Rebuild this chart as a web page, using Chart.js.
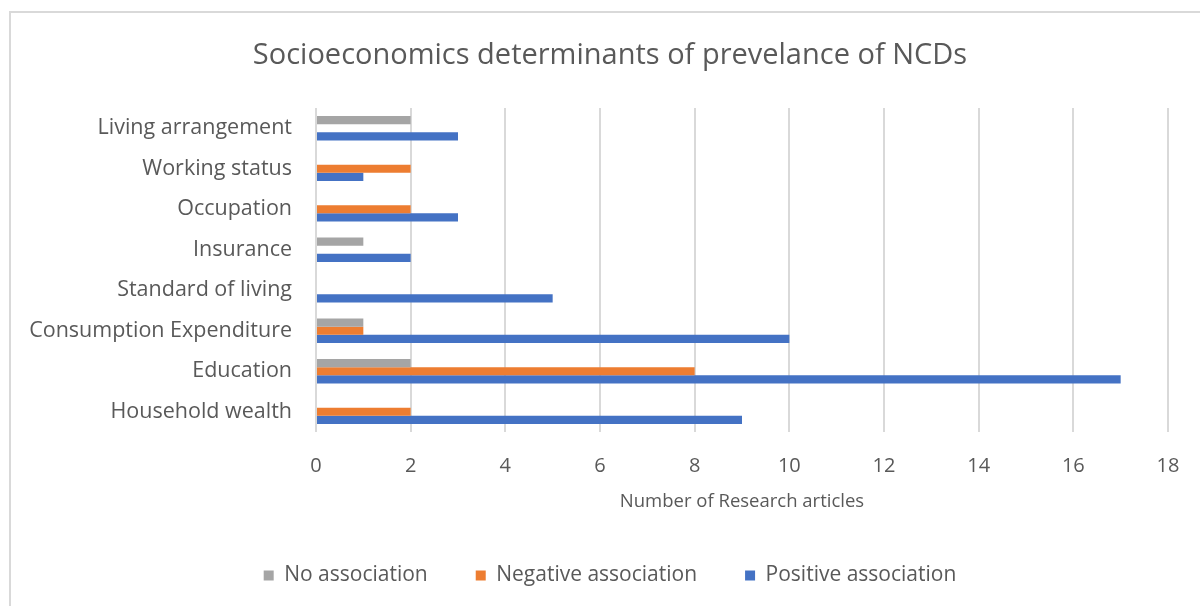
<!DOCTYPE html>
<html>
<head>
<meta charset="utf-8">
<script src="https://cdn.jsdelivr.net/npm/chart.js@4/dist/chart.umd.min.js"></script>
<style>
  html, body { margin: 0; padding: 0; background: #fff; overflow: hidden; }
  .frame {
    position: absolute; left: 9px; top: 11px; width: 1300px; height: 700px;
    border-top: 2px solid #d9d9d9; border-left: 2px solid #d9d9d9;
  }
  .wrap { position: absolute; left: 0; top: 0; width: 1220px; height: 606px; }
</style>
</head>
<body>
<div class="frame"></div>
<div class="wrap"><canvas id="chart"></canvas></div>
<script>
const categories = [
  'Living arrangement',
  'Working status',
  'Occupation',
  'Insurance',
  'Standard of living',
  'Consumption Expenditure',
  'Education',
  'Household wealth'
];
const noAssociation = [2, 0, 0, 1, 0, 1, 2, 0];
const negativeAssociation = [0, 2, 2, 0, 0, 1, 8, 2];
const positiveAssociation = [3, 1, 3, 2, 5, 10, 17, 9];
const xTicks = [0, 2, 4, 6, 8, 10, 12, 14, 16, 18];

const textColor = '#595959';
const fontFamily = '"Open Sans", "Noto Sans", sans-serif';

function barSet(label, data, color) {
  return {
    label: label,
    data: data,
    backgroundColor: color,
    borderWidth: 0,
    barPercentage: 1,
    categoryPercentage: 0.6
  };
}

const ctx = document.getElementById('chart').getContext('2d');

new Chart(ctx, {
  type: 'bar',
  data: {
    labels: categories,
    datasets: [
      barSet('No association', noAssociation, '#A5A5A5'),
      barSet('Negative association', negativeAssociation, '#ED7D31'),
      barSet('Positive association', positiveAssociation, '#4472C4')
    ]
  },
  options: {
    indexAxis: 'y',
    responsive: true,
    maintainAspectRatio: false,
    animation: false,
    layout: { padding: { left: 0, right: 0, top: 0, bottom: 10 } },
    plugins: {
      title: {
        display: true,
        text: 'Socioeconomics determinants of prevelance of NCDs',
        color: textColor,
        font: { family: fontFamily, size: 29, weight: 'normal' },
        padding: { top: 38.6, bottom: 34.6 }
      },
      legend: {
        position: 'bottom',
        labels: {
          color: textColor,
          font: { family: fontFamily, size: 21 },
          boxWidth: 10,
          boxHeight: 10,
          padding: 48
        }
      },
      tooltip: { enabled: false }
    },
    scales: {
      x: {
        min: 0,
        max: 18,
        afterBuildTicks: scale => {
          scale.ticks = xTicks.map(v => ({ value: v }));
        },
        afterFit: scale => {
          scale.height = 85;
        },
        ticks: {
          color: textColor,
          font: { family: fontFamily, size: 20 },
          padding: 22
        },
        grid: { color: '#d9d9d9', lineWidth: 2, drawTicks: false },
        border: { display: false },
        title: {
          display: true,
          text: 'Number of Research articles',
          color: textColor,
          font: { family: fontFamily, size: 18.5 },
          padding: { top: 0, bottom: 4 }
        }
      },
      y: {
        afterFit: scale => {
          scale.width = 316;
        },
        ticks: {
          color: textColor,
          font: { family: fontFamily, size: 21.5 },
          padding: 24
        },
        grid: { display: false, drawTicks: false },
        border: { display: false }
      },
      // empty right-hand axis, only reserves the blank margin right of the plot
      yRight: {
        type: 'category',
        position: 'right',
        afterFit: scale => {
          scale.width = 52;
        },
        ticks: { display: false },
        grid: { display: false, drawTicks: false },
        border: { display: false }
      }
    }
  }
});
</script>
</body>
</html>
